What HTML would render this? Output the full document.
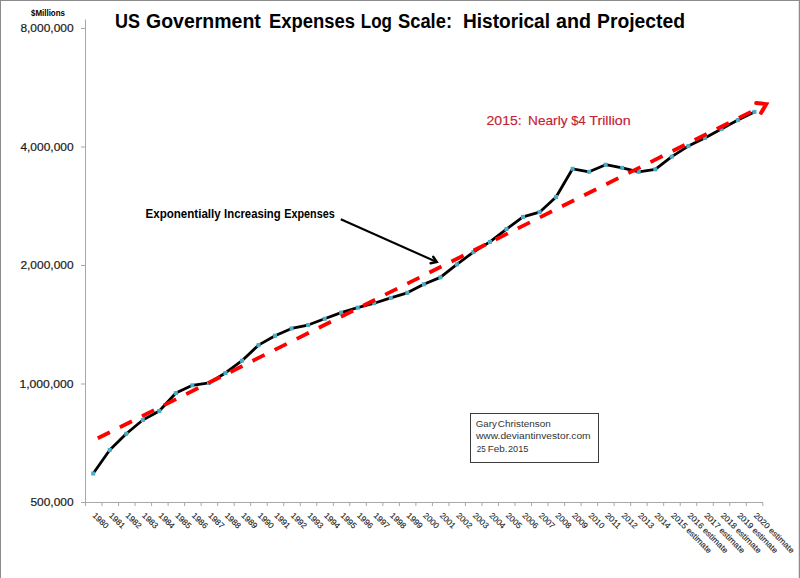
<!DOCTYPE html>
<html><head><meta charset="utf-8"><style>
html,body{margin:0;padding:0;background:#fff;width:800px;height:578px;overflow:hidden;font-family:"Liberation Sans",sans-serif;}
svg{display:block;}
</style></head><body>
<svg width="800" height="578" viewBox="0 0 800 578">
<rect x="0.5" y="0.5" width="799" height="600" fill="none" stroke="#8c8c8c" stroke-width="1"/>
<line x1="798.5" y1="1" x2="798.5" y2="578" stroke="#e6e6e6" stroke-width="1"/>
<text x="115.00" y="28.40" font-family="Liberation Sans" font-size="19.4" font-weight="bold" fill="#000" textLength="25.00" lengthAdjust="spacingAndGlyphs">US</text>
<text x="146.00" y="28.40" font-family="Liberation Sans" font-size="19.4" font-weight="bold" fill="#000" textLength="114.80" lengthAdjust="spacingAndGlyphs">Government</text>
<text x="269.00" y="28.40" font-family="Liberation Sans" font-size="19.4" font-weight="bold" fill="#000" textLength="86.00" lengthAdjust="spacingAndGlyphs">Expenses</text>
<text x="360.80" y="28.40" font-family="Liberation Sans" font-size="19.4" font-weight="bold" fill="#000" textLength="31.20" lengthAdjust="spacingAndGlyphs">Log</text>
<text x="398.00" y="28.40" font-family="Liberation Sans" font-size="19.4" font-weight="bold" fill="#000" textLength="54.00" lengthAdjust="spacingAndGlyphs">Scale:</text>
<text x="463.00" y="28.40" font-family="Liberation Sans" font-size="19.4" font-weight="bold" fill="#000" textLength="87.00" lengthAdjust="spacingAndGlyphs">Historical</text>
<text x="556.00" y="28.40" font-family="Liberation Sans" font-size="19.4" font-weight="bold" fill="#000" textLength="35.00" lengthAdjust="spacingAndGlyphs">and</text>
<text x="597.00" y="28.40" font-family="Liberation Sans" font-size="19.4" font-weight="bold" fill="#000" textLength="88.00" lengthAdjust="spacingAndGlyphs">Projected</text>
<text x="31.00" y="16.00" font-family="Liberation Sans" font-size="8.5" font-weight="bold" fill="#000" textLength="34.00" lengthAdjust="spacingAndGlyphs">$Millions</text>
<text x="20.40" y="32.20" font-family="Liberation Sans" font-size="11.8" fill="#1a1a1a" textLength="53.20" lengthAdjust="spacingAndGlyphs" stroke="#1a1a1a" stroke-width="0.2">8,000,000</text>
<line x1="81" y1="28.50" x2="85.5" y2="28.50" stroke="#a8a8a8" stroke-width="1"/>
<text x="20.40" y="150.70" font-family="Liberation Sans" font-size="11.8" fill="#1a1a1a" textLength="53.20" lengthAdjust="spacingAndGlyphs" stroke="#1a1a1a" stroke-width="0.2">4,000,000</text>
<line x1="81" y1="147.00" x2="85.5" y2="147.00" stroke="#a8a8a8" stroke-width="1"/>
<text x="20.40" y="269.20" font-family="Liberation Sans" font-size="11.8" fill="#1a1a1a" textLength="53.20" lengthAdjust="spacingAndGlyphs" stroke="#1a1a1a" stroke-width="0.2">2,000,000</text>
<line x1="81" y1="265.50" x2="85.5" y2="265.50" stroke="#a8a8a8" stroke-width="1"/>
<text x="19.40" y="387.70" font-family="Liberation Sans" font-size="11.8" fill="#1a1a1a" textLength="54.20" lengthAdjust="spacingAndGlyphs" stroke="#1a1a1a" stroke-width="0.2">1,000,000</text>
<line x1="81" y1="384.00" x2="85.5" y2="384.00" stroke="#a8a8a8" stroke-width="1"/>
<text x="30.40" y="506.20" font-family="Liberation Sans" font-size="11.8" fill="#1a1a1a" textLength="43.20" lengthAdjust="spacingAndGlyphs" stroke="#1a1a1a" stroke-width="0.2">500,000</text>
<line x1="81" y1="502.50" x2="85.5" y2="502.50" stroke="#a8a8a8" stroke-width="1"/>
<line x1="85.5" y1="19.5" x2="85.5" y2="502.5" stroke="#a8a8a8" stroke-width="1"/>
<line x1="81" y1="502.5" x2="763" y2="502.5" stroke="#a8a8a8" stroke-width="1"/>
<line x1="85.50" y1="502.5" x2="85.50" y2="506" stroke="#a8a8a8" stroke-width="1"/>
<line x1="102.02" y1="502.5" x2="102.02" y2="506" stroke="#a8a8a8" stroke-width="1"/>
<line x1="118.54" y1="502.5" x2="118.54" y2="506" stroke="#a8a8a8" stroke-width="1"/>
<line x1="135.06" y1="502.5" x2="135.06" y2="506" stroke="#a8a8a8" stroke-width="1"/>
<line x1="151.58" y1="502.5" x2="151.58" y2="506" stroke="#a8a8a8" stroke-width="1"/>
<line x1="168.10" y1="502.5" x2="168.10" y2="506" stroke="#a8a8a8" stroke-width="1"/>
<line x1="184.62" y1="502.5" x2="184.62" y2="506" stroke="#a8a8a8" stroke-width="1"/>
<line x1="201.14" y1="502.5" x2="201.14" y2="506" stroke="#a8a8a8" stroke-width="1"/>
<line x1="217.66" y1="502.5" x2="217.66" y2="506" stroke="#a8a8a8" stroke-width="1"/>
<line x1="234.18" y1="502.5" x2="234.18" y2="506" stroke="#a8a8a8" stroke-width="1"/>
<line x1="250.70" y1="502.5" x2="250.70" y2="506" stroke="#a8a8a8" stroke-width="1"/>
<line x1="267.22" y1="502.5" x2="267.22" y2="506" stroke="#a8a8a8" stroke-width="1"/>
<line x1="283.74" y1="502.5" x2="283.74" y2="506" stroke="#a8a8a8" stroke-width="1"/>
<line x1="300.26" y1="502.5" x2="300.26" y2="506" stroke="#a8a8a8" stroke-width="1"/>
<line x1="316.78" y1="502.5" x2="316.78" y2="506" stroke="#a8a8a8" stroke-width="1"/>
<line x1="333.30" y1="502.5" x2="333.30" y2="506" stroke="#a8a8a8" stroke-width="1"/>
<line x1="349.82" y1="502.5" x2="349.82" y2="506" stroke="#a8a8a8" stroke-width="1"/>
<line x1="366.34" y1="502.5" x2="366.34" y2="506" stroke="#a8a8a8" stroke-width="1"/>
<line x1="382.86" y1="502.5" x2="382.86" y2="506" stroke="#a8a8a8" stroke-width="1"/>
<line x1="399.38" y1="502.5" x2="399.38" y2="506" stroke="#a8a8a8" stroke-width="1"/>
<line x1="415.90" y1="502.5" x2="415.90" y2="506" stroke="#a8a8a8" stroke-width="1"/>
<line x1="432.42" y1="502.5" x2="432.42" y2="506" stroke="#a8a8a8" stroke-width="1"/>
<line x1="448.94" y1="502.5" x2="448.94" y2="506" stroke="#a8a8a8" stroke-width="1"/>
<line x1="465.46" y1="502.5" x2="465.46" y2="506" stroke="#a8a8a8" stroke-width="1"/>
<line x1="481.98" y1="502.5" x2="481.98" y2="506" stroke="#a8a8a8" stroke-width="1"/>
<line x1="498.50" y1="502.5" x2="498.50" y2="506" stroke="#a8a8a8" stroke-width="1"/>
<line x1="515.02" y1="502.5" x2="515.02" y2="506" stroke="#a8a8a8" stroke-width="1"/>
<line x1="531.54" y1="502.5" x2="531.54" y2="506" stroke="#a8a8a8" stroke-width="1"/>
<line x1="548.06" y1="502.5" x2="548.06" y2="506" stroke="#a8a8a8" stroke-width="1"/>
<line x1="564.58" y1="502.5" x2="564.58" y2="506" stroke="#a8a8a8" stroke-width="1"/>
<line x1="581.10" y1="502.5" x2="581.10" y2="506" stroke="#a8a8a8" stroke-width="1"/>
<line x1="597.62" y1="502.5" x2="597.62" y2="506" stroke="#a8a8a8" stroke-width="1"/>
<line x1="614.14" y1="502.5" x2="614.14" y2="506" stroke="#a8a8a8" stroke-width="1"/>
<line x1="630.66" y1="502.5" x2="630.66" y2="506" stroke="#a8a8a8" stroke-width="1"/>
<line x1="647.18" y1="502.5" x2="647.18" y2="506" stroke="#a8a8a8" stroke-width="1"/>
<line x1="663.70" y1="502.5" x2="663.70" y2="506" stroke="#a8a8a8" stroke-width="1"/>
<line x1="680.22" y1="502.5" x2="680.22" y2="506" stroke="#a8a8a8" stroke-width="1"/>
<line x1="696.74" y1="502.5" x2="696.74" y2="506" stroke="#a8a8a8" stroke-width="1"/>
<line x1="713.26" y1="502.5" x2="713.26" y2="506" stroke="#a8a8a8" stroke-width="1"/>
<line x1="729.78" y1="502.5" x2="729.78" y2="506" stroke="#a8a8a8" stroke-width="1"/>
<line x1="746.30" y1="502.5" x2="746.30" y2="506" stroke="#a8a8a8" stroke-width="1"/>
<line x1="762.82" y1="502.5" x2="762.82" y2="506" stroke="#a8a8a8" stroke-width="1"/>
<text transform="translate(92.00,515.9) rotate(45)" font-family="Liberation Sans" font-size="8.2" fill="#222" stroke="#222" stroke-width="0.12" textLength="18.8" lengthAdjust="spacingAndGlyphs">1980</text>
<text transform="translate(108.53,515.9) rotate(45)" font-family="Liberation Sans" font-size="8.2" fill="#222" stroke="#222" stroke-width="0.12" textLength="18.8" lengthAdjust="spacingAndGlyphs">1981</text>
<text transform="translate(125.06,515.9) rotate(45)" font-family="Liberation Sans" font-size="8.2" fill="#222" stroke="#222" stroke-width="0.12" textLength="18.8" lengthAdjust="spacingAndGlyphs">1982</text>
<text transform="translate(141.59,515.9) rotate(45)" font-family="Liberation Sans" font-size="8.2" fill="#222" stroke="#222" stroke-width="0.12" textLength="18.8" lengthAdjust="spacingAndGlyphs">1983</text>
<text transform="translate(158.12,515.9) rotate(45)" font-family="Liberation Sans" font-size="8.2" fill="#222" stroke="#222" stroke-width="0.12" textLength="18.8" lengthAdjust="spacingAndGlyphs">1984</text>
<text transform="translate(174.66,515.9) rotate(45)" font-family="Liberation Sans" font-size="8.2" fill="#222" stroke="#222" stroke-width="0.12" textLength="18.8" lengthAdjust="spacingAndGlyphs">1985</text>
<text transform="translate(191.19,515.9) rotate(45)" font-family="Liberation Sans" font-size="8.2" fill="#222" stroke="#222" stroke-width="0.12" textLength="18.8" lengthAdjust="spacingAndGlyphs">1986</text>
<text transform="translate(207.72,515.9) rotate(45)" font-family="Liberation Sans" font-size="8.2" fill="#222" stroke="#222" stroke-width="0.12" textLength="18.8" lengthAdjust="spacingAndGlyphs">1987</text>
<text transform="translate(224.25,515.9) rotate(45)" font-family="Liberation Sans" font-size="8.2" fill="#222" stroke="#222" stroke-width="0.12" textLength="18.8" lengthAdjust="spacingAndGlyphs">1988</text>
<text transform="translate(240.78,515.9) rotate(45)" font-family="Liberation Sans" font-size="8.2" fill="#222" stroke="#222" stroke-width="0.12" textLength="18.8" lengthAdjust="spacingAndGlyphs">1989</text>
<text transform="translate(257.31,515.9) rotate(45)" font-family="Liberation Sans" font-size="8.2" fill="#222" stroke="#222" stroke-width="0.12" textLength="18.8" lengthAdjust="spacingAndGlyphs">1990</text>
<text transform="translate(273.84,515.9) rotate(45)" font-family="Liberation Sans" font-size="8.2" fill="#222" stroke="#222" stroke-width="0.12" textLength="18.8" lengthAdjust="spacingAndGlyphs">1991</text>
<text transform="translate(290.37,515.9) rotate(45)" font-family="Liberation Sans" font-size="8.2" fill="#222" stroke="#222" stroke-width="0.12" textLength="18.8" lengthAdjust="spacingAndGlyphs">1992</text>
<text transform="translate(306.90,515.9) rotate(45)" font-family="Liberation Sans" font-size="8.2" fill="#222" stroke="#222" stroke-width="0.12" textLength="18.8" lengthAdjust="spacingAndGlyphs">1993</text>
<text transform="translate(323.43,515.9) rotate(45)" font-family="Liberation Sans" font-size="8.2" fill="#222" stroke="#222" stroke-width="0.12" textLength="18.8" lengthAdjust="spacingAndGlyphs">1994</text>
<text transform="translate(339.96,515.9) rotate(45)" font-family="Liberation Sans" font-size="8.2" fill="#222" stroke="#222" stroke-width="0.12" textLength="18.8" lengthAdjust="spacingAndGlyphs">1995</text>
<text transform="translate(356.50,515.9) rotate(45)" font-family="Liberation Sans" font-size="8.2" fill="#222" stroke="#222" stroke-width="0.12" textLength="18.8" lengthAdjust="spacingAndGlyphs">1996</text>
<text transform="translate(373.03,515.9) rotate(45)" font-family="Liberation Sans" font-size="8.2" fill="#222" stroke="#222" stroke-width="0.12" textLength="18.8" lengthAdjust="spacingAndGlyphs">1997</text>
<text transform="translate(389.56,515.9) rotate(45)" font-family="Liberation Sans" font-size="8.2" fill="#222" stroke="#222" stroke-width="0.12" textLength="18.8" lengthAdjust="spacingAndGlyphs">1998</text>
<text transform="translate(406.09,515.9) rotate(45)" font-family="Liberation Sans" font-size="8.2" fill="#222" stroke="#222" stroke-width="0.12" textLength="18.8" lengthAdjust="spacingAndGlyphs">1999</text>
<text transform="translate(422.62,515.9) rotate(45)" font-family="Liberation Sans" font-size="8.2" fill="#222" stroke="#222" stroke-width="0.12" textLength="18.8" lengthAdjust="spacingAndGlyphs">2000</text>
<text transform="translate(439.15,515.9) rotate(45)" font-family="Liberation Sans" font-size="8.2" fill="#222" stroke="#222" stroke-width="0.12" textLength="18.8" lengthAdjust="spacingAndGlyphs">2001</text>
<text transform="translate(455.68,515.9) rotate(45)" font-family="Liberation Sans" font-size="8.2" fill="#222" stroke="#222" stroke-width="0.12" textLength="18.8" lengthAdjust="spacingAndGlyphs">2002</text>
<text transform="translate(472.21,515.9) rotate(45)" font-family="Liberation Sans" font-size="8.2" fill="#222" stroke="#222" stroke-width="0.12" textLength="18.8" lengthAdjust="spacingAndGlyphs">2003</text>
<text transform="translate(488.74,515.9) rotate(45)" font-family="Liberation Sans" font-size="8.2" fill="#222" stroke="#222" stroke-width="0.12" textLength="18.8" lengthAdjust="spacingAndGlyphs">2004</text>
<text transform="translate(505.27,515.9) rotate(45)" font-family="Liberation Sans" font-size="8.2" fill="#222" stroke="#222" stroke-width="0.12" textLength="18.8" lengthAdjust="spacingAndGlyphs">2005</text>
<text transform="translate(521.81,515.9) rotate(45)" font-family="Liberation Sans" font-size="8.2" fill="#222" stroke="#222" stroke-width="0.12" textLength="18.8" lengthAdjust="spacingAndGlyphs">2006</text>
<text transform="translate(538.34,515.9) rotate(45)" font-family="Liberation Sans" font-size="8.2" fill="#222" stroke="#222" stroke-width="0.12" textLength="18.8" lengthAdjust="spacingAndGlyphs">2007</text>
<text transform="translate(554.87,515.9) rotate(45)" font-family="Liberation Sans" font-size="8.2" fill="#222" stroke="#222" stroke-width="0.12" textLength="18.8" lengthAdjust="spacingAndGlyphs">2008</text>
<text transform="translate(571.40,515.9) rotate(45)" font-family="Liberation Sans" font-size="8.2" fill="#222" stroke="#222" stroke-width="0.12" textLength="18.8" lengthAdjust="spacingAndGlyphs">2009</text>
<text transform="translate(587.93,515.9) rotate(45)" font-family="Liberation Sans" font-size="8.2" fill="#222" stroke="#222" stroke-width="0.12" textLength="18.8" lengthAdjust="spacingAndGlyphs">2010</text>
<text transform="translate(604.46,515.9) rotate(45)" font-family="Liberation Sans" font-size="8.2" fill="#222" stroke="#222" stroke-width="0.12" textLength="18.8" lengthAdjust="spacingAndGlyphs">2011</text>
<text transform="translate(620.99,515.9) rotate(45)" font-family="Liberation Sans" font-size="8.2" fill="#222" stroke="#222" stroke-width="0.12" textLength="18.8" lengthAdjust="spacingAndGlyphs">2012</text>
<text transform="translate(637.52,515.9) rotate(45)" font-family="Liberation Sans" font-size="8.2" fill="#222" stroke="#222" stroke-width="0.12" textLength="18.8" lengthAdjust="spacingAndGlyphs">2013</text>
<text transform="translate(654.05,515.9) rotate(45)" font-family="Liberation Sans" font-size="8.2" fill="#222" stroke="#222" stroke-width="0.12" textLength="18.8" lengthAdjust="spacingAndGlyphs">2014</text>
<text transform="translate(670.58,515.9) rotate(45)" font-family="Liberation Sans" font-size="8.2" fill="#222" stroke="#222" stroke-width="0.12" textLength="53.5" lengthAdjust="spacingAndGlyphs">2015 estimate</text>
<text transform="translate(687.12,515.9) rotate(45)" font-family="Liberation Sans" font-size="8.2" fill="#222" stroke="#222" stroke-width="0.12" textLength="53.5" lengthAdjust="spacingAndGlyphs">2016 estimate</text>
<text transform="translate(703.65,515.9) rotate(45)" font-family="Liberation Sans" font-size="8.2" fill="#222" stroke="#222" stroke-width="0.12" textLength="53.5" lengthAdjust="spacingAndGlyphs">2017 estimate</text>
<text transform="translate(720.18,515.9) rotate(45)" font-family="Liberation Sans" font-size="8.2" fill="#222" stroke="#222" stroke-width="0.12" textLength="53.5" lengthAdjust="spacingAndGlyphs">2018 estimate</text>
<text transform="translate(736.71,515.9) rotate(45)" font-family="Liberation Sans" font-size="8.2" fill="#222" stroke="#222" stroke-width="0.12" textLength="53.5" lengthAdjust="spacingAndGlyphs">2019 estimate</text>
<text transform="translate(753.24,515.9) rotate(45)" font-family="Liberation Sans" font-size="8.2" fill="#222" stroke="#222" stroke-width="0.12" textLength="53.5" lengthAdjust="spacingAndGlyphs">2020 estimate</text>
<path d="M93.20,473.51 L109.73,449.97 L126.26,433.76 L142.79,419.99 L159.32,411.05 L175.86,393.07 L192.39,385.30 L208.92,382.97 L225.45,372.99 L241.98,360.71 L258.51,345.13 L275.04,335.68 L291.57,328.44 L308.10,325.03 L324.63,318.80 L341.16,312.61 L357.70,307.64 L374.23,303.25 L390.76,297.86 L407.29,292.83 L423.82,284.30 L440.35,277.39 L456.88,264.32 L473.41,252.11 L489.94,241.91 L506.47,229.06 L523.01,216.86 L539.54,212.18 L556.07,196.99 L572.60,168.80 L589.13,171.77 L605.66,164.70 L622.19,167.86 L638.72,171.89 L655.25,169.36 L671.78,156.60 L688.32,146.10 L704.85,137.90 L721.38,129.00 L737.91,120.10 L754.44,111.90" fill="none" stroke="#000" stroke-width="2.8" stroke-linejoin="round"/>
<rect x="91.20" y="471.51" width="4" height="4" fill="#4bacc6"/>
<rect x="107.73" y="447.97" width="4" height="4" fill="#4bacc6"/>
<rect x="124.26" y="431.76" width="4" height="4" fill="#4bacc6"/>
<rect x="140.79" y="417.99" width="4" height="4" fill="#4bacc6"/>
<rect x="157.32" y="409.05" width="4" height="4" fill="#4bacc6"/>
<rect x="173.86" y="391.07" width="4" height="4" fill="#4bacc6"/>
<rect x="190.39" y="383.30" width="4" height="4" fill="#4bacc6"/>
<rect x="206.92" y="380.97" width="4" height="4" fill="#4bacc6"/>
<rect x="223.45" y="370.99" width="4" height="4" fill="#4bacc6"/>
<rect x="239.98" y="358.71" width="4" height="4" fill="#4bacc6"/>
<rect x="256.51" y="343.13" width="4" height="4" fill="#4bacc6"/>
<rect x="273.04" y="333.68" width="4" height="4" fill="#4bacc6"/>
<rect x="289.57" y="326.44" width="4" height="4" fill="#4bacc6"/>
<rect x="306.10" y="323.03" width="4" height="4" fill="#4bacc6"/>
<rect x="322.63" y="316.80" width="4" height="4" fill="#4bacc6"/>
<rect x="339.16" y="310.61" width="4" height="4" fill="#4bacc6"/>
<rect x="355.70" y="305.64" width="4" height="4" fill="#4bacc6"/>
<rect x="372.23" y="301.25" width="4" height="4" fill="#4bacc6"/>
<rect x="388.76" y="295.86" width="4" height="4" fill="#4bacc6"/>
<rect x="405.29" y="290.83" width="4" height="4" fill="#4bacc6"/>
<rect x="421.82" y="282.30" width="4" height="4" fill="#4bacc6"/>
<rect x="438.35" y="275.39" width="4" height="4" fill="#4bacc6"/>
<rect x="454.88" y="262.32" width="4" height="4" fill="#4bacc6"/>
<rect x="471.41" y="250.11" width="4" height="4" fill="#4bacc6"/>
<rect x="487.94" y="239.91" width="4" height="4" fill="#4bacc6"/>
<rect x="504.47" y="227.06" width="4" height="4" fill="#4bacc6"/>
<rect x="521.01" y="214.86" width="4" height="4" fill="#4bacc6"/>
<rect x="537.54" y="210.18" width="4" height="4" fill="#4bacc6"/>
<rect x="554.07" y="194.99" width="4" height="4" fill="#4bacc6"/>
<rect x="570.60" y="166.80" width="4" height="4" fill="#4bacc6"/>
<rect x="587.13" y="169.77" width="4" height="4" fill="#4bacc6"/>
<rect x="603.66" y="162.70" width="4" height="4" fill="#4bacc6"/>
<rect x="620.19" y="165.86" width="4" height="4" fill="#4bacc6"/>
<rect x="636.72" y="169.89" width="4" height="4" fill="#4bacc6"/>
<rect x="653.25" y="167.36" width="4" height="4" fill="#4bacc6"/>
<rect x="669.78" y="154.60" width="4" height="4" fill="#4bacc6"/>
<rect x="686.32" y="144.10" width="4" height="4" fill="#4bacc6"/>
<rect x="702.85" y="135.90" width="4" height="4" fill="#4bacc6"/>
<rect x="719.38" y="127.00" width="4" height="4" fill="#4bacc6"/>
<rect x="735.91" y="118.10" width="4" height="4" fill="#4bacc6"/>
<rect x="752.44" y="109.90" width="4" height="4" fill="#4bacc6"/>
<line x1="97.76" y1="438.27" x2="757.00" y2="108.88" stroke="#ff0000" stroke-width="3.8" stroke-dasharray="13.5 11.215"/>
<polyline points="756.2,103.0 766.2,104.1 761.0,112.9" fill="none" stroke="#ff0000" stroke-width="4.0" stroke-linecap="round" stroke-linejoin="miter" stroke-miterlimit="10"/>
<line x1="340.8" y1="219.2" x2="436.8" y2="262.0" stroke="#000" stroke-width="2.1"/>
<polyline points="433.2,256.8 436.8,262.0 430.6,263.2" fill="none" stroke="#000" stroke-width="2.4" stroke-linecap="round" stroke-linejoin="miter"/>
<text x="145.50" y="217.60" font-family="Liberation Sans" font-size="11.9" font-weight="bold" fill="#000" textLength="75.20" lengthAdjust="spacingAndGlyphs">Exponentially</text>
<text x="224.10" y="217.60" font-family="Liberation Sans" font-size="11.9" font-weight="bold" fill="#000" textLength="56.60" lengthAdjust="spacingAndGlyphs">Increasing</text>
<text x="284.30" y="217.60" font-family="Liberation Sans" font-size="11.9" font-weight="bold" fill="#000" textLength="50.40" lengthAdjust="spacingAndGlyphs">Expenses</text>
<text x="486.50" y="125.20" font-family="Liberation Sans" font-size="12.4" fill="#c42232" textLength="35.20" lengthAdjust="spacingAndGlyphs" stroke="#c42232" stroke-width="0.15">2015:</text>
<text x="528.10" y="125.20" font-family="Liberation Sans" font-size="12.4" fill="#c42232" textLength="39.40" lengthAdjust="spacingAndGlyphs" stroke="#c42232" stroke-width="0.15">Nearly</text>
<text x="571.30" y="125.20" font-family="Liberation Sans" font-size="12.4" fill="#c42232" textLength="14.40" lengthAdjust="spacingAndGlyphs" stroke="#c42232" stroke-width="0.15">$4</text>
<text x="589.30" y="125.20" font-family="Liberation Sans" font-size="12.4" fill="#c42232" textLength="41.40" lengthAdjust="spacingAndGlyphs" stroke="#c42232" stroke-width="0.15">Trillion</text>
<rect x="470.5" y="413.5" width="128" height="49" fill="#fff" stroke="#3c3c3c" stroke-width="1"/>
<text x="475.80" y="426.70" font-family="Liberation Sans" font-size="9.6" fill="#333" textLength="21.00" lengthAdjust="spacingAndGlyphs">Gary</text>
<text x="497.80" y="426.70" font-family="Liberation Sans" font-size="9.6" fill="#333" textLength="53.00" lengthAdjust="spacingAndGlyphs">Christenson</text>
<text x="476.00" y="439.15" font-family="Liberation Sans" font-size="9.6" fill="#333" textLength="114.60" lengthAdjust="spacingAndGlyphs">www.deviantinvestor.com</text>
<text x="476.80" y="452.40" font-family="Liberation Sans" font-size="9.6" fill="#333" textLength="9.00" lengthAdjust="spacingAndGlyphs">25</text>
<text x="487.80" y="452.40" font-family="Liberation Sans" font-size="9.6" fill="#333" textLength="19.80" lengthAdjust="spacingAndGlyphs">Feb.</text>
<text x="508.00" y="452.40" font-family="Liberation Sans" font-size="9.6" fill="#333" textLength="20.40" lengthAdjust="spacingAndGlyphs">2015</text>
</svg>
</body></html>
